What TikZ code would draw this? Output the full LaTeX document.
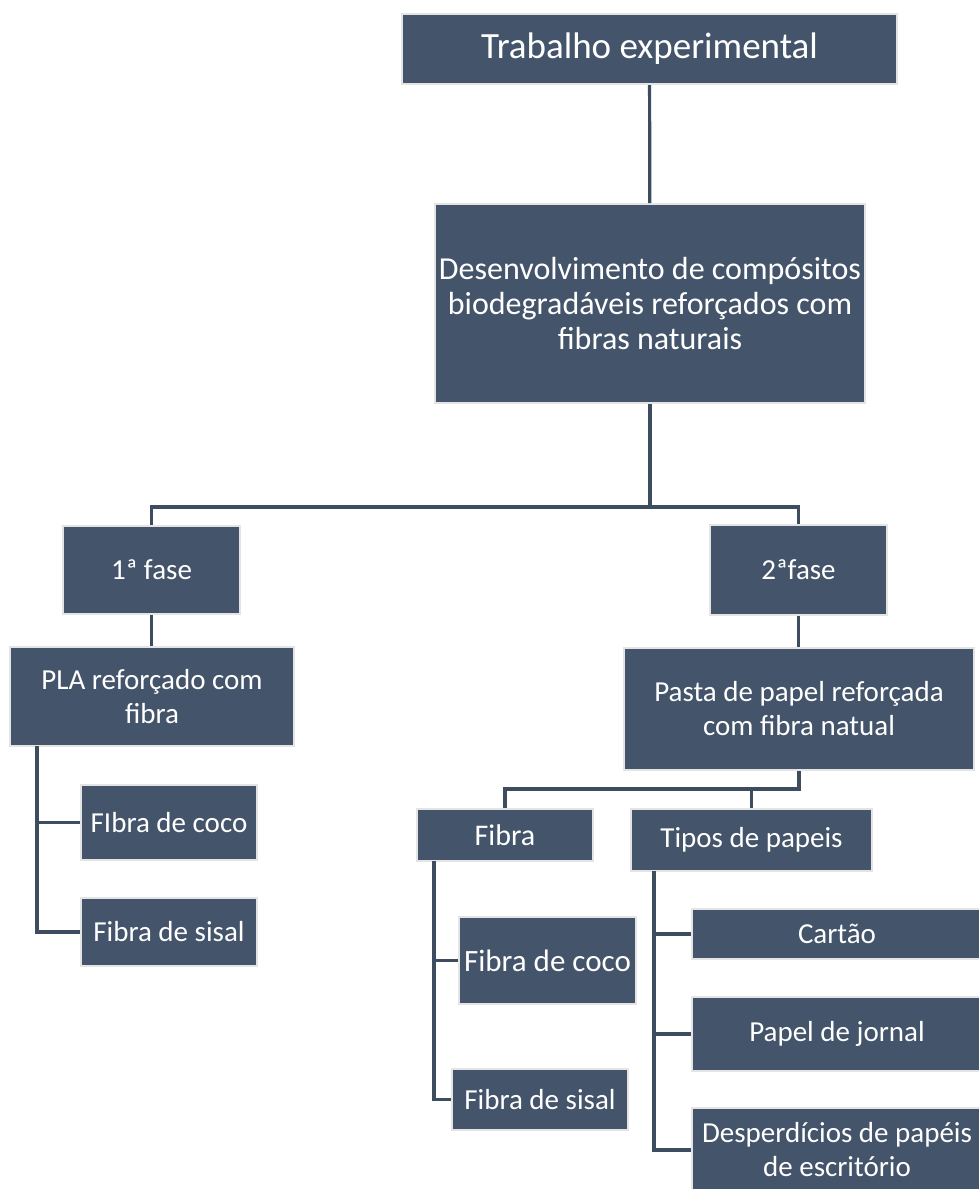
\documentclass[tikz,border=0pt]{standalone}
\usepackage{fontspec}
\setmainfont{Carlito}
\usepackage{tikz}
\definecolor{slate}{HTML}{44546A}
\definecolor{rim}{HTML}{E4E4E4}
\definecolor{wire}{HTML}{3E4C5F}
\newcommand{\fs}[2]{\fontsize{#1}{#2}\selectfont}

\begin{document}
\begin{tikzpicture}[x=0.5pt, y=-0.5pt,
  box/.style={draw=rim, line width=1pt, fill=slate, text=white, align=center,
              inner sep=0pt, font=\fs{14.5pt}{17pt}},
  link/.style={draw=wire, line width=1.6pt}]
  \useasboundingbox (0,0) rectangle (979,1189);

  % ---------- top levels ----------
  \node[box, minimum width=247.5pt, minimum height=35pt, font=\fs{18.5pt}{22pt}]
    (trab) at (649.5,49) {Trabalho experimental};
  \node[box, minimum width=215pt, minimum height=99.5pt, font=\fs{16pt}{17.5pt}]
    (dev) at (650,303.5) {Desenvolvimento de compósitos\\biodegradáveis reforçados com\\fibras naturais};

  % ---------- phases ----------
  \node[box, minimum width=88.5pt, minimum height=44pt] (f1) at (151.5,570) {1ª fase};
  \node[box, minimum width=88.5pt, minimum height=45pt] (f2) at (798.5,570) {2ªfase};

  % ===== 1st phase =====
  \node[box, minimum width=142pt, minimum height=49.5pt] (pla) at (152,696.5) {PLA reforçado com\\fibra};
  \node[box, minimum width=88pt, minimum height=37.5pt] (lcoco) at (169,822.5) {FIbra de coco};
  \node[box, minimum width=88pt, minimum height=34pt] (lsisal) at (169,932) {Fibra de sisal};

  % ===== 2nd phase =====
  \node[box, minimum width=175pt, minimum height=61pt] (pasta) at (799,709) {Pasta de papel reforçada\\com fibra natual};
  \node[box, minimum width=88pt, minimum height=26pt, font=\fs{15pt}{17pt}] (fibra) at (505,835) {Fibra};
  \node[box, minimum width=120.5pt, minimum height=31pt] (tipos) at (751.5,840) {Tipos de papeis};
  \node[box, minimum width=88.5pt, minimum height=43.5pt, font=\fs{15.5pt}{17pt}] (rcoco) at (547.5,960.5) {Fibra de coco};
  \node[box, minimum width=88pt, minimum height=30.5pt] (rsisal) at (540,1099.5) {Fibra de sisal};
  \node[box, minimum width=145pt, minimum height=25pt] (cartao) at (837,934) {Cartão};
  \node[box, minimum width=145pt, minimum height=37pt] (jornal) at (837,1034) {Papel de jornal};
  \node[box, minimum width=145pt, minimum height=42pt] (desp) at (837,1150) {Desperdícios de papéis\\de escritório};

  % ---------- connectors ----------
  \draw[link] (trab) -- (dev);
  \coordinate (split) at (650,507);
  \draw[link] (dev.south) -- (split) -| (f1.north);
  \draw[link] (split) -| (f2.north);
  \draw[link] (f1.south) -- (f1.south |- pla.north);
  \draw[link] (f2.south) -- (f2.south |- pasta.north);

  % left branch
  \coordinate (plaTrunk) at (37,746);
  \draw[link] (plaTrunk) |- (lcoco.west);
  \draw[link] (plaTrunk) |- (lsisal.west);

  % right branch
  \coordinate (split2) at (799,789);
  \draw[link] (pasta.south) -- (split2) -| (fibra.north);
  \draw[link] (split2) -| (tipos.north);
  \coordinate (fibTrunk) at (434,861);
  \draw[link] (fibTrunk) |- (rcoco.west);
  \draw[link] (fibTrunk) |- (rsisal.west);
  \coordinate (tipTrunk) at (654,871);
  \draw[link] (tipTrunk) |- (cartao.west);
  \draw[link] (tipTrunk) |- (jornal.west);
  \draw[link] (tipTrunk) |- (desp.west);

\end{tikzpicture}
\end{document}
